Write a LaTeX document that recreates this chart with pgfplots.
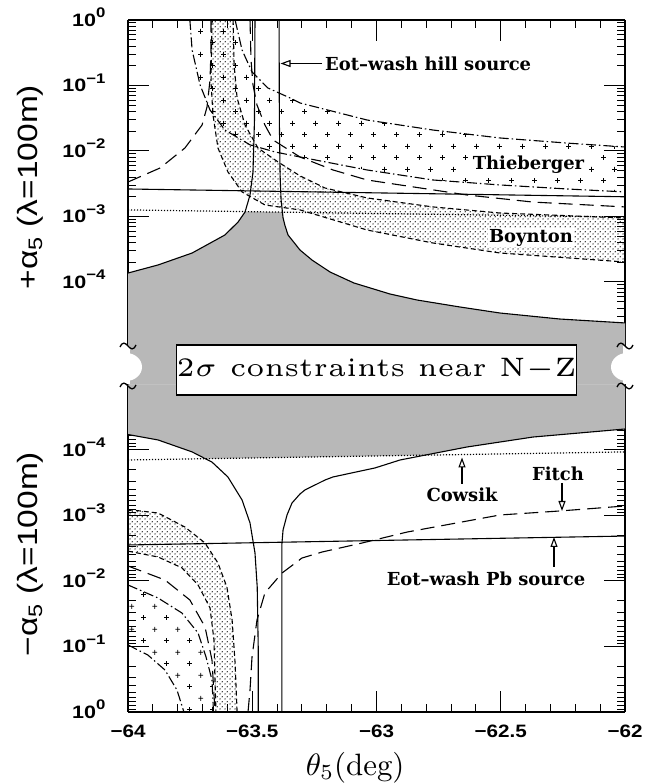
\documentclass[border=0pt]{standalone}
\usepackage{fontspec}
\usepackage{graphicx}
\usepackage{pgfplots}
\pgfplotsset{compat=1.18}
\usetikzlibrary{patterns,patterns.meta,arrows.meta}
\newfontfamily\tickfont{Liberation Sans}
\newfontfamily\labfont{Liberation Sans}
\newfontfamily\annfont{DejaVu Serif}
\newcommand{\ticksize}{\fontsize{18}{18}\selectfont\tickfont\bfseries}
\newcommand{\tp}[1]{\scalebox{1.2}[1]{10\raisebox{0.5em}{\fontsize{14}{14}\selectfont #1}}}
\newcommand{\xl}[1]{\scalebox{1.15}[1]{#1}}
\newcommand{\ann}{\annfont\bfseries\fontsize{18}{18}\selectfont}

\tikzdeclarepattern{
  name=stip,
  type=uncolored,
  bounding box={(0bp,0bp) and (4.6bp,4.6bp)},
  tile size={(4.6bp,4.6bp)},
  code={
    \fill (1.15bp,1.15bp) circle (0.7bp);
    \fill (3.45bp,3.45bp) circle (0.7bp);
  }
}
\tikzdeclarepattern{
  name=plusp,
  type=uncolored,
  bounding box={(0bp,0bp) and (23bp,23bp)},
  tile size={(23bp,23bp)},
  code={
    \draw[line width=0.8bp] (3.25bp,5.75bp) -- (8.25bp,5.75bp) (5.75bp,3.25bp) -- (5.75bp,8.25bp);
    \draw[line width=0.8bp] (14.75bp,17.25bp) -- (19.75bp,17.25bp) (17.25bp,14.75bp) -- (17.25bp,19.75bp);
  }
}

\tikzset{
  sol/.style={black, line width=1.1bp},
  sdash/.style={black, line width=1.1bp, dash pattern=on 5bp off 3bp},
  ldash/.style={black, line width=1.1bp, dash pattern=on 14bp off 7bp},
  ddot/.style={black, line width=1.1bp, dash pattern=on 10bp off 3bp on 1.5bp off 3bp},
  dotl/.style={black, line width=1.2bp, dash pattern=on 1.2bp off 1.8bp},
}

\begin{document}
\begin{tikzpicture}[x=1bp,y=1bp]
\useasboundingbox (0,0) rectangle (648,784);

% ---------------- upper panel: +alpha ----------------
\begin{axis}[
  at={(128bp,399.5bp)}, anchor=south west,
  scale only axis, width=497bp, height=364.5bp,
  xmin=-64, xmax=-62,
  ymode=log, ymin=2.7227e-6, ymax=1,
  axis x line*=top, axis y line*=box,
  tick align=inside,
  xtick={-64,-63.5,-63,-62.5,-62}, minor x tick num=4,
  xticklabels={},
  ytick={1e-4,1e-3,1e-2,1e-1,1},
  yticklabels={\tp{−4},\tp{−3},\tp{−2},\tp{−1},\tp{0}},
  minor ytick={2e-5,3e-5,4e-5,5e-5,6e-5,7e-5,8e-5,9e-5,2e-4,3e-4,4e-4,5e-4,6e-4,7e-4,8e-4,9e-4,2e-3,3e-3,4e-3,5e-3,6e-3,7e-3,8e-3,9e-3,0.02,0.03,0.04,0.05,0.06,0.07,0.08,0.09,0.2,0.3,0.4,0.5,0.6,0.7,0.8,0.9},
  major tick length=21bp, minor tick length=8bp,
  tick style={black, line width=1bp},
  axis line style={line width=1.5bp},
  yticklabel style={font=\ticksize, anchor=base east, xshift=-19bp, yshift=-6.5bp},
]
% allowed region (Eot-wash hill source)
\addplot[draw=none, fill=black!28] coordinates {
 (-64,2.7e-6) (-64,1.37e-4) (-63.879,1.82e-4) (-63.742,2.77e-4) (-63.610,5.22e-4)
 (-63.557,8.24e-4) (-63.530,1.19e-3) (-63.382,1.16e-3) (-63.376,9.5e-4) (-63.368,7.2e-4)
 (-63.356,5.22e-4) (-63.308,3.08e-4) (-63.260,2.17e-4) (-63.187,1.42e-4) (-63.091,9.66e-5)
 (-62.946,6.56e-5) (-62.837,5.31e-5) (-62.664,4.15e-5) (-62.503,3.36e-5) (-62.262,2.72e-5)
 (-62,2.37e-5) (-62,2.7e-6)} -- cycle;
% Boynton band
\addplot[draw=none, pattern=stip] coordinates {
 (-63.577,1) (-63.573,0.206) (-63.561,0.0645) (-63.529,0.0249) (-63.477,0.0111)
 (-63.396,6.79e-3) (-63.308,4.17e-3) (-63.207,2.72e-3) (-63.038,1.92e-3)
 (-62.773,1.40e-3) (-62.503,1.13e-3) (-62,9.48e-4)
 (-62,2.02e-4) (-62.503,2.77e-4) (-62.773,3.94e-4) (-63.038,6.22e-4) (-63.308,1.26e-3)
 (-63.449,1.50e-3) (-63.541,2.37e-3) (-63.598,4.8e-3) (-63.638,0.0111)
 (-63.658,0.0355) (-63.666,0.113) (-63.662,1)} -- cycle;
% Thieberger band
\addplot[draw=none, pattern=plusp] coordinates {
 (-63.569,1) (-63.541,0.348) (-63.501,0.161) (-63.437,0.0916) (-63.348,0.0645)
 (-63.308,0.0541) (-63.038,0.0297) (-62.773,0.0209) (-62.503,0.0158) (-62.233,0.0132) (-62,0.0115)
 (-62,2.37e-3) (-62.233,2.63e-3) (-62.503,3.03e-3) (-62.773,3.61e-3) (-63.038,5.13e-3)
 (-63.308,8.10e-3) (-63.408,9.66e-3) (-63.509,0.0124) (-63.610,0.0209) (-63.670,0.0423)
 (-63.710,0.102) (-63.742,0.348) (-63.751,1)} -- cycle;
% Boynton boundaries
\addplot[sdash] coordinates {
 (-63.577,1) (-63.573,0.206) (-63.561,0.0645) (-63.529,0.0249) (-63.477,0.0111)
 (-63.396,6.79e-3) (-63.308,4.17e-3) (-63.207,2.72e-3) (-63.038,1.92e-3)
 (-62.773,1.40e-3) (-62.503,1.13e-3) (-62,9.48e-4)};
\addplot[sdash] coordinates {
 (-63.662,1) (-63.666,0.113) (-63.658,0.0355) (-63.638,0.0111) (-63.598,4.8e-3)
 (-63.541,2.37e-3) (-63.449,1.50e-3) (-63.308,1.26e-3) (-63.038,6.22e-4)
 (-62.773,3.94e-4) (-62.503,2.77e-4) (-62,2.02e-4)};
% Thieberger boundaries
\addplot[ddot] coordinates {
 (-63.569,1) (-63.541,0.348) (-63.501,0.161) (-63.437,0.0916) (-63.348,0.0645)
 (-63.308,0.0541) (-63.038,0.0297) (-62.773,0.0209) (-62.503,0.0158) (-62.233,0.0132) (-62,0.0115)};
\addplot[ddot] coordinates {
 (-63.751,1) (-63.742,0.348) (-63.710,0.102) (-63.670,0.0423) (-63.610,0.0209)
 (-63.509,0.0124) (-63.408,9.66e-3) (-63.308,8.10e-3) (-63.038,5.13e-3) (-62.773,3.61e-3)
 (-62.503,3.03e-3) (-62.233,2.63e-3) (-62,2.37e-3)};
% long dashed curves
\addplot[ldash] coordinates {
 (-64,3.36e-3) (-63.871,5.50e-3) (-63.771,0.0111) (-63.702,0.0249) (-63.682,0.0470)
 (-63.670,0.121) (-63.666,0.348) (-63.666,1)};
\addplot[ldash] coordinates {
 (-63.509,1) (-63.505,0.245) (-63.497,0.102) (-63.481,0.0504) (-63.449,0.0249)
 (-63.416,0.0147) (-63.308,8.10e-3) (-63.175,5.13e-3) (-63.038,3.61e-3) (-62.905,3.03e-3)
 (-62.636,2.13e-3) (-62.370,1.66e-3) (-62,1.40e-3)};
% Eot-wash Pb source and Cowsik
\addplot[sol] coordinates {(-64,2.63e-3) (-62,2.0e-3)};
\addplot[dotl] coordinates {(-64,1.26e-3) (-62,9.8e-4)};
% Eot-wash hill source
\addplot[sol] coordinates {
 (-64,1.37e-4) (-63.879,1.82e-4) (-63.742,2.77e-4) (-63.610,5.22e-4) (-63.557,8.24e-4)
 (-63.529,1.17e-3) (-63.509,2.13e-3) (-63.497,4.8e-3) (-63.491,0.03) (-63.489,1)};
\addplot[sol] coordinates {
 (-63.392,1) (-63.391,0.03) (-63.388,4.3e-3) (-63.384,1.8e-3) (-63.376,9.5e-4)
 (-63.368,7.2e-4) (-63.356,5.22e-4) (-63.308,3.08e-4) (-63.260,2.17e-4) (-63.187,1.42e-4)
 (-63.091,9.66e-5) (-62.946,6.56e-5) (-62.837,5.31e-5) (-62.664,4.15e-5) (-62.503,3.36e-5)
 (-62.262,2.72e-5) (-62,2.37e-5)};
\end{axis}

% ---------------- lower panel: -alpha ----------------
\begin{axis}[
  at={(128bp,72bp)}, anchor=south west,
  scale only axis, width=497bp, height=327.5bp,
  xmin=-64, xmax=-62,
  ymode=log, ymin=1e-5, ymax=1, y dir=reverse,
  axis x line*=bottom, axis y line*=box,
  tick align=inside,
  xtick={-64,-63.5,-63,-62.5,-62}, minor x tick num=4,
  xticklabels={\xl{−64},\xl{−63.5},\xl{−63},\xl{−62.5},\xl{−62}},
  ytick={1e-4,1e-3,1e-2,1e-1,1},
  yticklabels={\tp{−4},\tp{−3},\tp{−2},\tp{−1},\tp{0}},
  minor ytick={2e-5,3e-5,4e-5,5e-5,6e-5,7e-5,8e-5,9e-5,2e-4,3e-4,4e-4,5e-4,6e-4,7e-4,8e-4,9e-4,2e-3,3e-3,4e-3,5e-3,6e-3,7e-3,8e-3,9e-3,0.02,0.03,0.04,0.05,0.06,0.07,0.08,0.09,0.2,0.3,0.4,0.5,0.6,0.7,0.8,0.9},
  major tick length=21bp, minor tick length=8bp,
  tick style={black, line width=1bp},
  axis line style={line width=1.5bp},
  yticklabel style={font=\ticksize, anchor=base east, xshift=-19bp, yshift=-6.5bp},
  xticklabel style={font=\ticksize, yshift=-9bp},
  xlabel={\scalebox{3.1}{$\theta_5$(deg)}},
  xlabel style={at={(axis description cs:0.457,-0.1695)}, anchor=center},
]
\addplot[draw=none, fill=black!28] coordinates {
 (-64,1e-5) (-64,5.8e-5) (-63.879,7.03e-5) (-63.742,1.07e-4) (-63.682,1.36e-4)
 (-62.805,1.20e-4) (-62.636,9.0e-5) (-62.370,6.34e-5) (-62,4.78e-5) (-62,1e-5)} -- cycle;
% Boynton band
\addplot[draw=none, pattern=stip] coordinates {
 (-64,8.5e-4) (-63.985,8.24e-4) (-63.879,9.16e-4) (-63.771,1.50e-3) (-63.690,2.63e-3)
 (-63.638,5.31e-3) (-63.602,0.0124) (-63.581,0.0394) (-63.569,0.179) (-63.561,1)
 (-63.646,1) (-63.650,0.325) (-63.654,0.0796) (-63.670,0.0258) (-63.718,0.0115)
 (-63.783,6.3e-3) (-63.879,4.3e-3) (-64,3.5e-3)} -- cycle;
% Thieberger band
\addplot[draw=none, pattern=plusp] coordinates {
 (-64,0.0115) (-63.879,0.0182) (-63.783,0.0308) (-63.718,0.0622) (-63.686,0.145)
 (-63.662,0.325) (-63.656,1)
 (-63.775,1) (-63.803,0.461) (-63.851,0.229) (-63.920,0.135) (-64,0.0948)} -- cycle;
\addplot[sdash] coordinates {
 (-64,8.5e-4) (-63.985,8.24e-4) (-63.879,9.16e-4) (-63.771,1.50e-3) (-63.690,2.63e-3)
 (-63.638,5.31e-3) (-63.602,0.0124) (-63.581,0.0394) (-63.569,0.179) (-63.561,1)};
\addplot[sdash] coordinates {
 (-64,3.5e-3) (-63.879,4.3e-3) (-63.783,6.3e-3) (-63.718,0.0115) (-63.670,0.0258)
 (-63.654,0.0796) (-63.650,0.325) (-63.646,1)};
\addplot[ddot] coordinates {
 (-64,0.0115) (-63.879,0.0182) (-63.783,0.0308) (-63.718,0.0622) (-63.686,0.145)
 (-63.662,0.325) (-63.656,1)};
\addplot[ddot] coordinates {
 (-64,0.0948) (-63.920,0.135) (-63.851,0.229) (-63.803,0.461) (-63.775,1)};
\addplot[ldash] coordinates {
 (-64,5.9e-3) (-63.851,9.66e-3) (-63.751,0.0195) (-63.690,0.0504) (-63.662,0.161) (-63.650,1)};
% Fitch
\addplot[ldash] coordinates {
 (-63.517,1) (-63.509,0.461) (-63.501,0.145) (-63.481,0.0394) (-63.449,0.0152)
 (-63.380,7.55e-3) (-63.300,4.46e-3) (-63.219,3.61e-3) (-63.058,2.63e-3) (-62.877,1.79e-3)
 (-62.503,9.82e-4) (-62.262,8.53e-4) (-62,7.16e-4)};
% Eot-wash Pb source and Cowsik
\addplot[sol] coordinates {(-64,2.82e-3) (-62,2.06e-3)};
\addplot[dotl] coordinates {(-64,1.42e-4) (-62,1.07e-4)};
% Eot-wash hill source
\addplot[sol] coordinates {
 (-64,5.8e-5) (-63.879,7.03e-5) (-63.742,1.07e-4) (-63.662,1.53e-4) (-63.598,2.58e-4)
 (-63.541,5.8e-4) (-63.509,1.30e-3) (-63.489,3.74e-3) (-63.480,0.0124) (-63.476,0.102) (-63.476,1)};
\addplot[sol] coordinates {
 (-63.381,1) (-63.381,2.8e-3) (-63.376,1.66e-3) (-63.360,9.8e-4) (-63.340,6.44e-4)
 (-63.308,4.7e-4) (-63.288,4.08e-4) (-63.207,2.87e-4) (-63.175,2.58e-4) (-63.006,1.88e-4)
 (-62.905,1.42e-4) (-62.636,9.0e-5) (-62.370,6.34e-5) (-62,4.78e-5)};
\end{axis}

% ---------------- y axis titles ----------------
\node[rotate=90, font=\labfont\fontsize{28}{30}\selectfont, inner sep=0pt] at (30,597)
  {\scalebox{1.2}[1]{+α\textsubscript{5} (λ=100m)}};
\node[rotate=90, font=\labfont\fontsize{28}{30}\selectfont, inner sep=0pt] at (30,230)
  {\scalebox{1.2}[1]{−α\textsubscript{5} (λ=100m)}};

% ---------------- axis break ----------------
\fill[white] (126,399.5) rectangle (130,438);
\fill[white] (623,399.5) rectangle (627,438);
\fill[white] (126,417) ellipse [x radius=16, y radius=14];
\fill[white] (627,417) ellipse [x radius=16, y radius=14];
\foreach \xx in {128,625}{
  \foreach \yy in {438,398}{
    \draw[line width=1.3bp] (\xx-8,\yy-1) .. controls (\xx-5,\yy+5) and (\xx-3,\yy+3) .. (\xx,\yy)
      .. controls (\xx+3,\yy-3) and (\xx+5,\yy-5) .. (\xx+8,\yy+1);
  }
}
\node[draw, line width=1.4bp, fill=white, minimum width=397bp, minimum height=50bp, inner sep=0pt]
  at (376.5,414) {\scalebox{5.36}{\fontsize{5}{6}\selectfont 2$\sigma$ constraints near N$-$Z}};

% ---------------- annotations ----------------
\node[font=\ann, anchor=west, inner sep=0pt] at (325,720.5) {Eot–wash hill source};
\draw[line width=1.1bp, -{Triangle[open,length=10bp,width=7bp]}] (322,720.5) -- (280.5,720.5);
\node[font=\ann, fill=white, inner sep=1bp] at (528.5,619.5) {Thieberger};
\node[font=\ann, fill=white, inner sep=1bp] at (531,546.5) {Boynton};
\node[font=\ann, inner sep=0pt] at (462,289) {Cowsik};
\draw[line width=1.1bp, -{Triangle[open,length=10bp,width=7bp]}] (462,300) -- (462,326.5);
\node[font=\ann, inner sep=0pt] at (558,310) {Fitch};
\draw[line width=1.1bp, -{Triangle[open,length=10bp,width=7bp]}] (562,301) -- (562,273);
\node[font=\ann, inner sep=0pt] at (486,205) {Eot–wash Pb source};
\draw[line width=1.1bp, -{Triangle[open,length=10bp,width=7bp]}] (554,217) -- (554,247);
\end{tikzpicture}
\end{document}
